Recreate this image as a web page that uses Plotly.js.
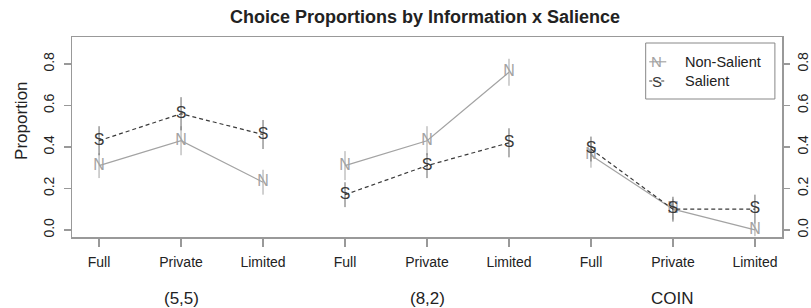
<!DOCTYPE html>
<html>
<head>
<meta charset="utf-8">
<script src="https://cdn.plot.ly/plotly-3.0.1.min.js"></script>
<style>html,body{margin:0;padding:0;background:#fff;overflow:hidden;}#chart{width:811px;height:308px;}</style>
</head>
<body>
<div id="chart"></div>
<script>
// ---- data ----
const categories = ['Full', 'Private', 'Limited'];
const groups = ['(5,5)', '(8,2)', 'COIN'];
const nonSalient = [[0.31, 0.43, 0.23], [0.31, 0.43, 0.76], [0.36, 0.10, 0.00]];
const salient    = [[0.43, 0.56, 0.46], [0.17, 0.31, 0.42], [0.39, 0.10, 0.10]];
const nonSalientErr = [[0.06, 0.07, 0.06], [0.07, 0.07, 0.065], [0.06, 0.05, 0.03]];
const salientErr    = [[0.07, 0.08, 0.07], [0.06, 0.06, 0.07], [0.06, 0.06, 0.07]];
const yTicks = [0, 0.2, 0.4, 0.6, 0.8];
const legendLabels = ['Non-Salient', 'Salient'];

const FONT = 'Liberation Sans, Arial, sans-serif';
const nCol = '#a3a3a3', sCol = '#3a3a3a';

const xPos = [];
const tickText = [];
groups.forEach((g, gi) => categories.forEach((c, ci) => { xPos.push(gi * categories.length + ci + 1); tickText.push(c); }));

const traces = [];
groups.forEach((g, gi) => {
  const xs = categories.map((c, ci) => gi * categories.length + ci + 1);
  traces.push({
    x: xs, y: nonSalient[gi], type: 'scatter', mode: 'lines+text',
    text: categories.map(() => 'N'), textposition: 'middle center',
    textfont: {family: FONT, size: 16, color: nCol},
    line: {color: nCol, width: 1.2},
    error_y: {type: 'data', array: nonSalientErr[gi], visible: true, color: nCol, thickness: 1, width: 0},
    showlegend: false, cliponaxis: false
  });
  traces.push({
    x: xs, y: salient[gi], type: 'scatter', mode: 'lines+text',
    text: categories.map(() => 'S'), textposition: 'middle center',
    textfont: {family: FONT, size: 16, color: sCol},
    line: {color: sCol, width: 1.2, dash: '4px,3px'},
    error_y: {type: 'data', array: salientErr[gi], visible: true, color: '#666', thickness: 1, width: 0},
    showlegend: false, cliponaxis: false
  });
});
// right-axis companion (invisible) so yaxis2 is drawn
traces.push({x: [xPos[0]], y: [null], yaxis: 'y2', type: 'scatter', mode: 'lines', showlegend: false, hoverinfo: 'skip'});

const annotations = groups.map((g, gi) => ({
  text: g, x: gi * categories.length + 2, xref: 'x', y: -0.305, yref: 'paper',
  yanchor: 'middle', xanchor: 'center', showarrow: false,
  font: {family: FONT, size: 17, color: '#222'}
}));
annotations.push({
  text: 'Proportion', textangle: -90, xref: 'paper', x: -0.072, xanchor: 'center',
  yref: 'paper', y: 0.58, yanchor: 'middle', showarrow: false,
  font: {family: FONT, size: 17, color: '#222'}
});
// custom legend (paper coordinates)
const legX0 = 0.808, legX1 = 0.99, legY0 = 0.69, legY1 = 0.97;
const shapes = [
  {type: 'rect', xref: 'paper', yref: 'paper', x0: legX0, x1: legX1, y0: legY0, y1: legY1, line: {color: '#888', width: 1}, fillcolor: 'rgba(0,0,0,0)'},
  {type: 'line', xref: 'paper', yref: 'paper', x0: 0.813, x1: 0.837, y0: 0.876, y1: 0.876, line: {color: nCol, width: 1.2}},
  {type: 'line', xref: 'paper', yref: 'paper', x0: 0.813, x1: 0.837, y0: 0.78, y1: 0.78, line: {color: sCol, width: 1.2, dash: '3px,3px'}}
];
annotations.push({text: 'N', xref: 'paper', yref: 'paper', x: 0.8235, y: 0.876, xanchor: 'center', yanchor: 'middle', showarrow: false, font: {family: FONT, size: 15, color: nCol}});
annotations.push({text: 'S', xref: 'paper', yref: 'paper', x: 0.8235, y: 0.78, xanchor: 'center', yanchor: 'middle', showarrow: false, font: {family: FONT, size: 15, color: sCol}});
legendLabels.forEach((l, i) => annotations.push({
  text: l, xref: 'paper', yref: 'paper', x: 0.86, y: i === 0 ? 0.876 : 0.78,
  xanchor: 'left', yanchor: 'middle', showarrow: false, font: {family: FONT, size: 14.5, color: '#222'}
}));

const yRange = [-0.034, 0.93];
const layout = {
  width: 811, height: 308,
  margin: {l: 72, r: 29, t: 37, b: 71},
  paper_bgcolor: '#fff', plot_bgcolor: '#fff',
  font: {family: FONT, color: '#222', size: 14},
  title: {text: '<b>Choice Proportions by Information x Salience</b>', x: 0.524, xanchor: 'center', y: 0.945, yanchor: 'middle', font: {family: FONT, size: 18, color: '#222'}},
  xaxis: {
    range: [0.67, 9.33], tickvals: xPos, ticktext: tickText, showgrid: false, zeroline: false,
    showline: true, mirror: true, linecolor: '#999', linewidth: 1.5,
    ticks: 'outside', ticklen: 8, tickcolor: '#999', tickwidth: 1.2, ticklabelstandoff: 4,
    tickfont: {family: FONT, size: 14, color: '#222'}
  },
  yaxis: {
    range: yRange, tickvals: yTicks, ticktext: yTicks.map(v => v.toFixed(1)), showgrid: false, zeroline: false,
    showline: true, mirror: true, linecolor: '#999', linewidth: 1.5,
    ticks: 'outside', ticklen: 7, tickcolor: '#999', tickwidth: 1.2, tickangle: -90, ticklabelstandoff: 4,
    tickfont: {family: FONT, size: 14, color: '#222'}
  },
  yaxis2: {
    range: yRange, overlaying: 'y', side: 'right', tickvals: yTicks, ticktext: yTicks.map(v => v.toFixed(1)),
    showgrid: false, zeroline: false, showline: false,
    ticks: 'outside', ticklen: 7, tickcolor: '#999', tickwidth: 1.2, tickangle: -90, ticklabelstandoff: 1,
    tickfont: {family: FONT, size: 14, color: '#222'}
  },
  showlegend: false,
  annotations: annotations,
  shapes: shapes
};
Plotly.newPlot('chart', traces, layout, {displayModeBar: false, staticPlot: true});
</script>
</body>
</html>
